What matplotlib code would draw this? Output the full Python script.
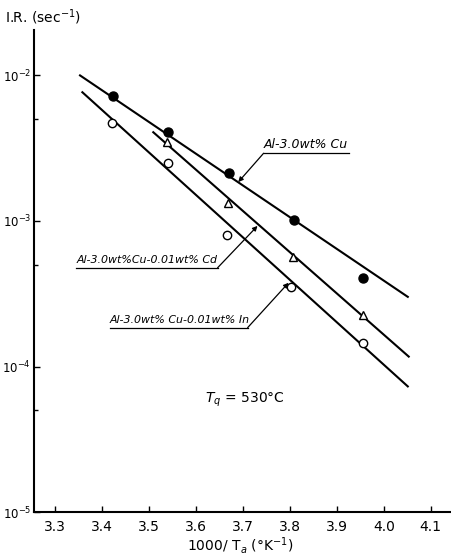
import matplotlib
matplotlib.use('Agg')
import matplotlib.pyplot as plt
from matplotlib.ticker import FixedLocator, NullFormatter

# data
x_cu = [3.424, 3.541, 3.671, 3.808, 3.955]
y_cu = [7.2e-3, 4.07e-3, 2.13e-3, 1.02e-3, 4.07e-4]
x_cd = [3.539, 3.669, 3.806, 3.955]
y_cd = [3.48e-3, 1.33e-3, 5.66e-4, 2.27e-4]
x_in = [3.422, 3.541, 3.667, 3.803, 3.955]
y_in = [4.7e-3, 2.5e-3, 8.0e-4, 3.53e-4, 1.46e-4]

# fitted straight lines (end points)
fit_cu_x = [3.353, 4.051]
fit_cu_y = [1.0e-2, 3.01e-4]
fit_cd_x = [3.509, 4.053]
fit_cd_y = [4.07e-3, 1.17e-4]
fit_in_x = [3.358, 4.051]
fit_in_y = [7.66e-3, 7.3e-5]

xticks = [3.3, 3.4, 3.5, 3.6, 3.7, 3.8, 3.9, 4.0, 4.1]
xtick_labels = ['3.3', '3.4', '3.5', '3.6', '3.7', '3.8', '3.9', '4.0', '4.1']
yticks = [1e-5, 1e-4, 1e-3, 1e-2]
ytick_labels = ['$10^{-5}$', '$10^{-4}$', '$10^{-3}$', '$10^{-2}$']
yminor = [5e-5, 5e-4, 5e-3]

fig = plt.figure(figsize=(4.51, 5.56), dpi=100)
ax = fig.add_axes([0.0754, 0.079, 0.9246, 0.867])
ax.set_yscale('log')
ax.set_xlim(3.255, 4.143)
ax.set_ylim(1e-5, 2.05e-2)

for s in ['top', 'right']:
    ax.spines[s].set_visible(False)
ax.spines['left'].set_linewidth(1.5)
ax.spines['bottom'].set_linewidth(1.5)

ax.plot(fit_cu_x, fit_cu_y, color='black', lw=1.5)
ax.plot(fit_cd_x, fit_cd_y, color='black', lw=1.5)
ax.plot(fit_in_x, fit_in_y, color='black', lw=1.5)

ax.plot(x_cu, y_cu, 'o', color='black', ms=6.5, ls='none')
ax.plot(x_cd, y_cd, '^', mfc='white', mec='black', mew=1.0, ms=6, ls='none')
ax.plot(x_in, y_in, 'o', mfc='white', mec='black', mew=1.0, ms=6, ls='none')

ax.set_xticks(xticks)
ax.set_xticklabels(xtick_labels)
ax.set_yticks(yticks)
ax.set_yticklabels(ytick_labels)
ax.yaxis.set_minor_locator(FixedLocator(yminor))
ax.yaxis.set_minor_formatter(NullFormatter())
ax.tick_params(axis='both', direction='in', length=4, width=1)
ax.tick_params(axis='x', pad=6, labelsize=10)
ax.tick_params(axis='y', pad=2, labelsize=8.5)
ax.tick_params(axis='y', which='minor', direction='in', length=3, width=1)

# labels with underline and leader arrows
def label(text, x0, x1, y, tx, ty, fs):
    ax.text(x0, y * 1.04, text, fontsize=fs, style='italic', ha='left', va='bottom')
    ax.plot([x0, x1], [y, y], color='black', lw=0.9)
    ax.annotate('', xy=(tx, ty), xytext=(x1 if tx > x1 else x0, y),
                arrowprops=dict(arrowstyle='-|>', color='black', lw=0.9,
                                mutation_scale=7, shrinkA=0, shrinkB=0))

label('Al-3.0wt% Cu', 3.744, 3.925, 2.92e-3, 3.690, 1.85e-3, 9)
label('Al-3.0wt%Cu-0.01wt% Cd', 3.345, 3.646, 4.77e-4, 3.731, 9.25e-4, 7.9)
label('Al-3.0wt% Cu-0.01wt% In', 3.417, 3.710, 1.85e-4, 3.797, 3.76e-4, 7.9)

ax.text(3.620, 5.94e-5, '$T_q$ = 530°C', fontsize=10, ha='left', va='center')

fig.text(5 / 451, 1 - 17 / 556, 'I.R. (sec$^{-1}$)', fontsize=10, ha='left', va='center')
fig.text(240 / 451, 1 - 545 / 556, '1000/ T$_a$ (°K$^{-1}$)', fontsize=10, ha='center', va='center')

fig.savefig('out.png', dpi=100)
